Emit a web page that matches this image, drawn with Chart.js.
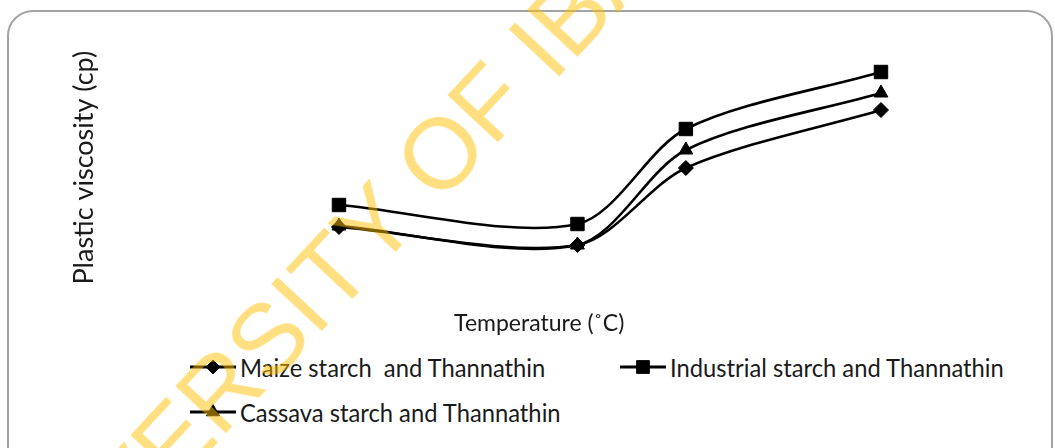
<!DOCTYPE html>
<html>
<head>
<meta charset="utf-8">
<script src="https://cdn.jsdelivr.net/npm/chart.js@4.4.0/dist/chart.umd.min.js"></script>
<style>
    html, body { margin: 0; padding: 0; background: #fff; width: 1055px; height: 448px; overflow: hidden; }
    #frame {
        position: absolute; left: 7px; top: 10px; width: 1046px; height: 480px;
        border: 2px solid #a3a3a3; border-radius: 26px; box-sizing: border-box;
    }
    #chartBox { position: absolute; left: 0; top: 0; width: 1055px; height: 341px; }
    .legend-item {
        position: absolute; display: flex; align-items: center; height: 30px;
        font-family: Lato, sans-serif; font-size: 25px; color: #1a1a1a; white-space: pre;
    }
    .legend-item canvas { margin-right: 4px; }
    .legend-item span { display: inline-block; transform: scaleX(0.95); transform-origin: left center; }
    #watermark {
        position: absolute; left: 384px; top: 213px;
        transform: translate(-50%, -50%) rotate(-47deg);
        font-family: "Liberation Sans", Arial, sans-serif; font-size: 100px; line-height: 100px;
        color: rgba(255, 192, 0, 0.5); white-space: nowrap; pointer-events: none;
    }
</style>
</head>
<body>
<div id="frame"></div>
<div id="chartBox"><canvas id="viscosityChart"></canvas></div>
<div id="legend"></div>
<div id="watermark">UNIVERSITY OF IBADAN</div>

<script>
// ===================================
// DATA
// ===================================

const temperatures = [28, 50, 60, 78];
const maizeViscosity = [7.8, 6.0, 13.7, 19.5];
const industrialViscosity = [10.0, 8.1, 17.6, 23.3];
const cassavaViscosity = [7.9, 6.0, 15.5, 21.2];

const seriesLabels = [
    'Maize starch  and Thannathin',
    'Industrial starch and Thannathin',
    'Cassava starch and Thannathin'
];

function toPoints(values) {
    return temperatures.map((t, i) => ({ x: t, y: values[i] }));
}

// ===================================
// CHART
// ===================================

const series = [
    { label: seriesLabels[0], values: maizeViscosity, style: 'rectRot', radius: 7.5 },
    { label: seriesLabels[1], values: industrialViscosity, style: 'rect', radius: 9.5 },
    { label: seriesLabels[2], values: cassavaViscosity, style: 'triangle', radius: 8 }
];

const ctx = document.getElementById('viscosityChart');
const chart = new Chart(ctx, {
    type: 'line',
    data: {
        datasets: series.map(s => ({
            label: s.label,
            data: toPoints(s.values),
            borderColor: '#000',
            backgroundColor: '#000',
            borderWidth: 2.6,
            tension: 0.3,
            pointStyle: s.style,
            pointRadius: s.radius,
            pointBorderWidth: 1,
            pointBackgroundColor: '#000',
            pointBorderColor: '#000'
        }))
    },
    options: {
        responsive: true,
        maintainAspectRatio: false,
        animation: false,
        layout: { padding: { left: 64, right: 81, top: 30, bottom: 0 } },
        plugins: {
            legend: { display: false },
            tooltip: { enabled: false }
        },
        scales: {
            x: {
                type: 'linear',
                min: 6.36,
                max: 86.58,
                grid: { display: false, drawTicks: false },
                border: { display: false },
                ticks: { display: false },
                title: {
                    display: true,
                    text: 'Temperature (˚C)',
                    color: '#1a1a1a',
                    font: { family: 'Lato', size: 23 }
                }
            },
            y: {
                min: -0.04,
                max: 27.5,
                grid: { display: false, drawTicks: false },
                border: { display: false },
                ticks: { display: false },
                title: {
                    display: true,
                    text: 'Plastic viscosity (cp)',
                    color: '#1a1a1a',
                    font: { family: 'Lato', size: 27 }
                }
            }
        }
    }
});

// ===================================
// LEGEND
// ===================================

function makeMarker(style, radius) {
    const c = document.createElement('canvas');
    c.width = 46;
    c.height = 20;
    const g = c.getContext('2d');
    g.strokeStyle = '#000';
    g.lineWidth = 3;
    g.beginPath();
    g.moveTo(0, 10);
    g.lineTo(46, 10);
    g.stroke();
    g.fillStyle = '#000';
    g.lineWidth = 1;
    Chart.helpers.drawPoint(g, { pointStyle: style, radius: radius, borderWidth: 1, rotation: 0 }, 23, 10);
    return c;
}

const legendSlots = [
    { left: 190, top: 352 },
    { left: 620, top: 352 },
    { left: 190, top: 397 }
];

const legendEl = document.getElementById('legend');
series.forEach((s, i) => {
    const item = document.createElement('div');
    item.className = 'legend-item';
    item.style.left = legendSlots[i].left + 'px';
    item.style.top = legendSlots[i].top + 'px';
    item.appendChild(makeMarker(s.style, s.radius - 0.5));
    const text = document.createElement('span');
    text.textContent = s.label;
    item.appendChild(text);
    legendEl.appendChild(item);
});
</script>
</body>
</html>
